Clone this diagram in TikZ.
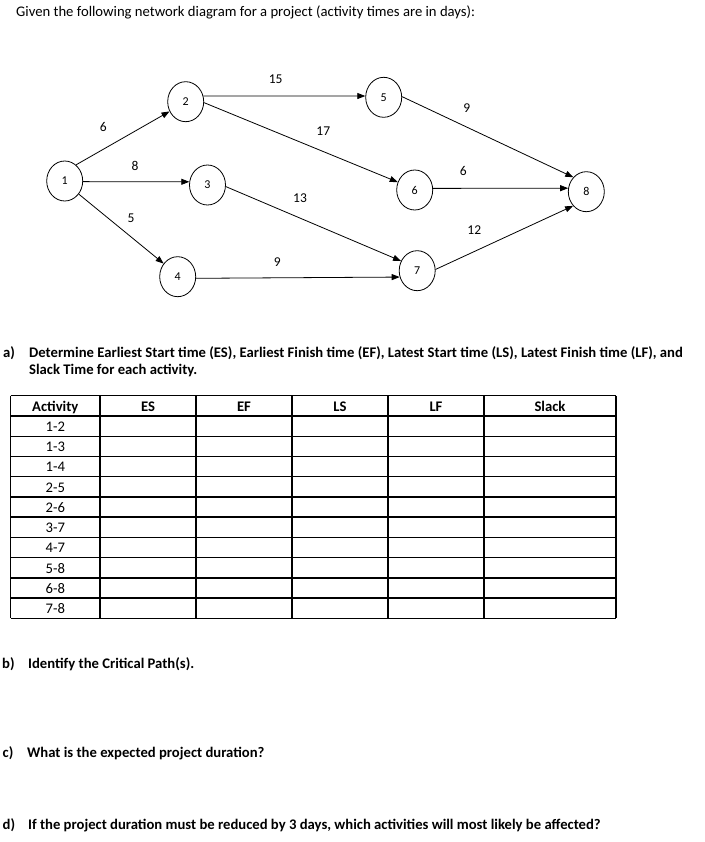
\documentclass[tikz,border=0pt]{standalone}
\usepackage{fontspec}
\setmainfont{Carlito}
\usetikzlibrary{shapes.geometric,arrows.meta}
\tikzset{
  evt/.style={draw, ellipse, minimum width=36pt, minimum height=40pt, inner sep=0pt, line width=0.8pt, font=\fontsize{12}{14}\selectfont},
  act/.style={line width=0.8pt, -{Triangle[length=8pt,width=6pt]}},
  dur/.style={inner sep=0pt, font=\fontsize{13.5}{16}\selectfont},
  txt/.style={anchor=base west, inner sep=0pt, font=\fontsize{14.67}{17.6}\selectfont},
  btxt/.style={txt, font=\fontsize{14.67}{17.6}\selectfont\bfseries},
  cell/.style={anchor=base, inner sep=0pt, font=\fontsize{14.67}{17.6}\selectfont},
  hcell/.style={cell, font=\fontsize{14.67}{17.6}\selectfont\bfseries},
  grid/.style={line width=1.3pt}
}
\begin{document}
\begin{tikzpicture}[x=1pt,y=-1pt]
\useasboundingbox (0,0) rectangle (704,842);
% heading
\node[txt] (given) at (16,16.5) {Given the following network diagram for a project (activity times are in days):};
% events
\node[evt] (n1) at (64.7,181) {1};
\node[evt] (n2) at (185.7,101.7) {2};
\node[evt] (n3) at (207.5,185) {3};
\node[evt] (n4) at (177.7,276.7) {4};
\node[evt] (n5) at (383.7,97.3) {5};
\node[evt] (n6) at (414.7,190) {6};
\node[evt] (n7) at (417.2,270.7) {7};
\node[evt] (n8) at (586.3,191.7) {8};
% activities
\draw[act] (n1.55) -- (n2.211);
\draw[act] (n1.-2) -- (n3.170);
\draw[act] (n1.-43) -- (n4.137);
\draw[act] (n2.18) -- (n5.176);
\draw[act] (n2.-3) -- (n6.155);
\draw[act] (n3.-5) -- (n7.149);
\draw[act] (n4.-5) -- (n7.200);
\draw[act] (n5.2) -- (n8.132);
\draw[act] (n6.5) -- (n8.169);
\draw[act] (n7.4) -- (n8.227);
% durations
\node[dur] (d12) at (103.3,126.7) {6};
\node[dur] (d13) at (135,166) {8};
\node[dur] (d14) at (131,218.3) {5};
\node[dur] (d25) at (275.7,79.3) {15};
\node[dur] (d26) at (323.3,131) {17};
\node[dur] (d37) at (300,197.7) {13};
\node[dur] (d47) at (277.3,261.7) {9};
\node[dur] (d58) at (466.7,108.3) {9};
\node[dur] (d68) at (463.3,171) {6};
\node[dur] (d78) at (474.3,230) {12};
% question a
\node[btxt] (qa) at (3,357) {a)};
\node[btxt] (qa1) at (29,357) {Determine Earliest Start time (ES), Earliest Finish time (EF), Latest Start time (LS), Latest Finish time (LF), and};
\node[btxt] (qa2) at (29,374.5) {Slack Time for each activity.};
% table
\foreach \i in {0,...,11} {
  \draw[grid] (10.5,395.7+20.24*\i) -- (616,395.7+20.24*\i);
}
\foreach \x in {10.5,100,196,292,388,484,616} {
  \draw[grid] (\x,395.7) -- (\x,618.3);
}
\node[hcell] (hA) at (55.3,411.2) {Activity};
\node[hcell] (hES) at (148,411.2) {ES};
\node[hcell] (hEF) at (244,411.2) {EF};
\node[hcell] (hLS) at (340,411.2) {LS};
\node[hcell] (hLF) at (436,411.2) {LF};
\node[hcell] (hSl) at (550,411.2) {Slack};
\foreach \t [count=\k] in {1-2,1-3,1-4,2-5,2-6,3-7,4-7,5-8,6-8,7-8} {
  \node[cell] (r\k) at (55.3,411.2+20.24*\k) {\t};
}
% questions b, c, d
\node[btxt] (qb) at (2,668.3) {b)};
\node[btxt] (qbt) at (28,668.3) {Identify the Critical Path(s).};
\node[btxt] (qc) at (2.5,757.3) {c)};
\node[btxt] (qct) at (27,757.3) {What is the expected project duration?};
\node[btxt] (qd) at (2.5,829.3) {d)};
\node[btxt] (qdt) at (28,829.3) {If the project duration must be reduced by 3 days, which activities will most likely be affected?};
\end{tikzpicture}
\end{document}
